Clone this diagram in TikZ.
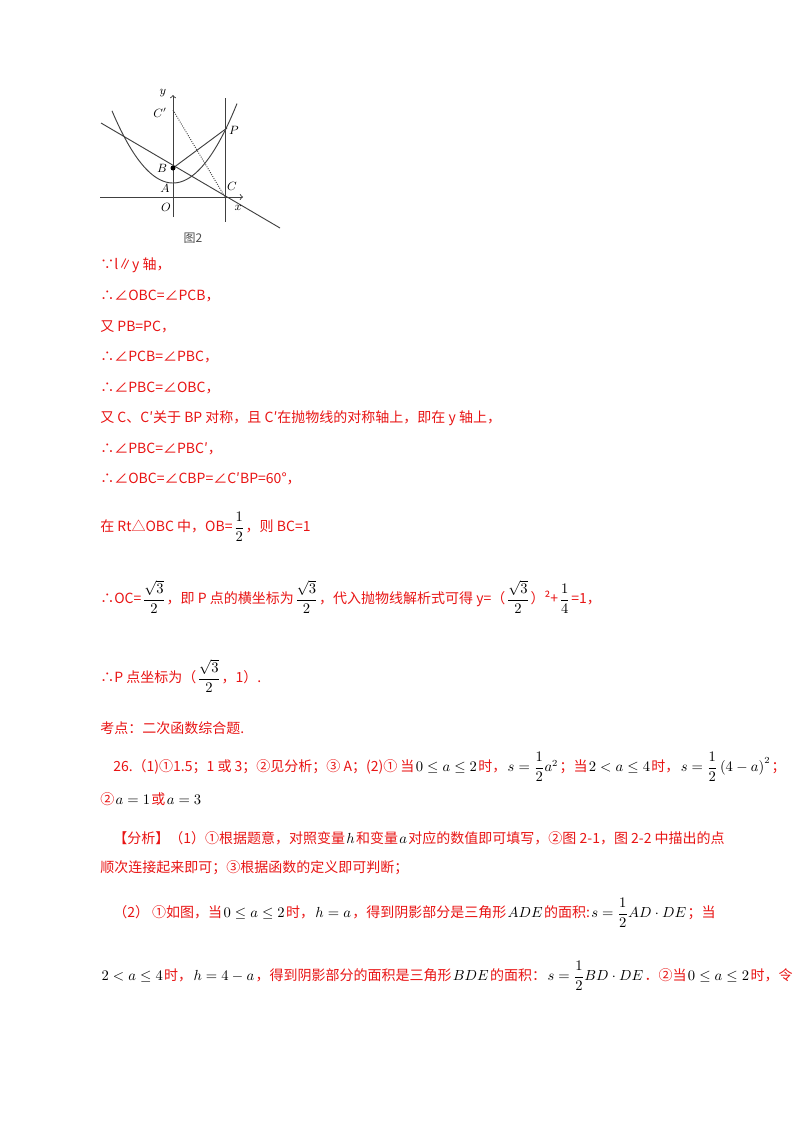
\documentclass[tikz,border=0pt]{standalone}
\usepackage{amsmath}
\usepackage{fontspec}
\setmainfont{Noto Sans CJK SC}
\usepackage{tikz}
\usetikzlibrary{arrows}
\definecolor{ansred}{RGB}{232,20,20}
\tikzset{
  txt/.style={anchor=west,inner sep=0pt,text=ansred,font=\fontsize{10.5pt}{12pt}\selectfont},
  lbl/.style={inner sep=0pt,font=\fontsize{9pt}{10pt}\selectfont},
  axis/.style={draw=black!75,line width=0.7pt},
}
\newcommand{\blk}[1]{{\color{black}\kern1pt#1\kern1pt}}
\begin{document}
\begin{tikzpicture}[x=0.75pt,y=-0.75pt]
  \useasboundingbox (0,0) rectangle (800,1132);
  % figure
  \coordinate (O) at (173,197);
  \coordinate (B) at (173,168);
  \coordinate (C) at (225,197);
  \coordinate (Cp) at (173,110);
  \coordinate (P) at (227,128);
  \draw[axis,->] (100,197) -- (243,197);
  \draw[axis,->] (173,217) -- (173,95);
  \draw[axis] (225,98) -- (225,222);
  \draw[axis] (101,123) -- (280,228);
  \draw[axis] (B) -- (P);
  \draw[axis,densely dotted] (Cp) -- (C);
  \draw[axis,domain=112:237,samples=60] plot (\x,{183-0.0194*(\x-173)^2});
  \fill (B) circle (2.5);
  \node[lbl] (ly) at (163,93) {$y$};
  \node[lbl] (lCp) at (160,113) {$C'$};
  \node[lbl] (lP) at (234,130) {$P$};
  \node[lbl] (lB) at (162,168) {$B$};
  \node[lbl] (lA) at (165,188) {$A$};
  \node[lbl] (lC) at (232,186) {$C$};
  \node[lbl] (lx) at (238,208) {$x$};
  \node[lbl] (lO) at (166,207) {$O$};
  \node[inner sep=0pt,font=\fontsize{9pt}{10pt}\selectfont,text=black!70] (cap) at (193,238) {图2};
  % text
  \node[txt] (t1) at (100,265) {∵l∥y 轴，};
  \node[txt] (t2) at (100,296) {∴∠OBC=∠PCB，};
  \node[txt] (t3) at (100,327) {又 PB=PC，};
  \node[txt] (t4) at (100,357) {∴∠PCB=∠PBC，};
  \node[txt] (t5) at (100,388) {∴∠PBC=∠OBC，};
  \node[txt] (t6) at (100,418) {又 C、C′关于 BP 对称，且 C′在抛物线的对称轴上，即在 y 轴上，};
  \node[txt] (t7) at (100,449) {∴∠PBC=∠PBC′，};
  \node[txt] (t8) at (100,479) {∴∠OBC=∠CBP=∠C′BP=60°，};
  \node[txt] (t9) at (100,527) {在 Rt△OBC 中，OB=\blk{$\dfrac{1}{2}$}，则 BC=1};
  \node[txt] (t10) at (100,597) {∴OC=\blk{$\dfrac{\sqrt{3}}{2}$}，即 P 点的横坐标为\blk{$\dfrac{\sqrt{3}}{2}$}，代入抛物线解析式可得 y=（\blk{$\dfrac{\sqrt{3}}{2}$}）²+\blk{$\dfrac{1}{4}$}=1，};
  \node[txt] (t11) at (100,676) {∴P 点坐标为（\blk{$\dfrac{\sqrt{3}}{2}$}，1）.};
  \node[txt] (t12) at (100,728) {考点：二次函数综合题.};
  \node[txt] (t13) at (113,767) {26.（1)①1.5；1 或 3；②见分析；③ A；(2)① 当\blk{$0\le a\le 2$}时，\blk{$s=\dfrac{1}{2}a^2$}；当\blk{$2<a\le 4$}时，\blk{$s=\dfrac{1}{2}\left(4-a\right)^2$}；};
  \node[txt] (t14) at (100,799) {②\blk{$a=1$}或\blk{$a=3$}};
  \node[txt] (t15) at (113,838) {【分析】（1）①根据题意，对照变量\blk{$h$}和变量\blk{$a$}对应的数值即可填写，②图 2-1，图 2-2 中描出的点};
  \node[txt] (t16) at (100,868) {顺次连接起来即可；③根据函数的定义即可判断；};
  \node[txt] (t17) at (113,913) {（2） ①如图，当\blk{$0\le a\le 2$}时，\blk{$h=a$}，得到阴影部分是三角形\blk{$ADE$}的面积:\blk{$s=\dfrac{1}{2}AD\cdot DE$}；当};
  \node[txt] (t18) at (100,976) {\blk{$2<a\le 4$}时，\blk{$h=4-a$}，得到阴影部分的面积是三角形\blk{$BDE$}的面积：\blk{$s=\dfrac{1}{2}BD\cdot DE$}．②当\blk{$0\le a\le 2$}时，令};
\end{tikzpicture}
\end{document}
